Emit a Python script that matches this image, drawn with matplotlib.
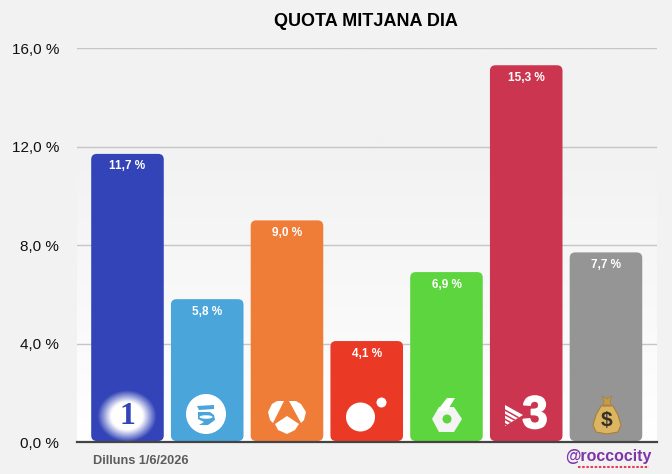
import numpy as np
import matplotlib
matplotlib.use('Agg')
import matplotlib.pyplot as plt
import matplotlib.patheffects as pe
from matplotlib.patches import FancyBboxPatch, Circle, Ellipse, Polygon

plt.rcParams['font.family'] = ['Liberation Sans', 'DejaVu Sans']

channels = ['La 1', 'Telecinco', 'Antena 3', 'Cuatro', 'La Sexta', '3/24', 'Altres']
shares = [11.7, 5.8, 9.0, 4.1, 6.9, 15.3, 7.7]
colors = ['#3344b8', '#49a5da', '#ef7d38', '#ea3a26', '#5dd53f', '#cc3550', '#959595']
yticks = [0, 4, 8, 12, 16]
ytickLabels = ['0,0 %', '4,0 %', '8,0 %', '12,0 %', '16,0 %']
title = 'QUOTA MITJANA DIA'
dateText = 'Dilluns 1/6/2026'
handle = '@roccocity'

W, H = 672, 474
BG = '#f2f2f2'
fig = plt.figure(figsize=(W / 100, H / 100), dpi=100, facecolor=BG)
ax = fig.add_axes([77 / W, 1 - 442 / H, 580 / W, 394 / H])

# background fade, white at the bottom
ramp = np.clip(np.linspace(0, 1.35, 256), 0, 1).reshape(-1, 1)
rgb = 1.0 - ramp * (1 - 0xf2 / 255)
ax.imshow(np.dstack([rgb, rgb, rgb]), extent=[-0.633, 6.64, 0, 16], origin='lower', aspect='auto', zorder=0)
ax.set_xlim(-0.633, 6.64)
ax.set_ylim(0, 16)

ax.yaxis.grid(True, color='#c6c6c6', linewidth=1.0, zorder=1)
ax.set_axisbelow(True)
for s in ['top', 'left', 'right']:
    ax.spines[s].set_visible(False)
ax.spines['bottom'].set_color('#444444')
ax.spines['bottom'].set_linewidth(1.6)
ax.spines['bottom'].set_zorder(5)
ax.set_xticks([])
ax.set_yticks(yticks)
ax.set_yticklabels(ytickLabels, fontsize=11, color='#111111')
ax.tick_params(axis='y', length=0, pad=13)

# rounded bars
barWidth = 0.91
pxPerX = 79.75
pxPerY = 394 / 16
for i, (v, c) in enumerate(zip(shares, colors)):
    box = FancyBboxPatch((i - barWidth / 2, 0.04), barWidth, v - 0.04,
                         boxstyle='round,pad=0,rounding_size=0.07',
                         mutation_aspect=pxPerX / pxPerY,
                         facecolor=c, edgecolor='none', zorder=3)
    ax.add_patch(box)
    label = ('%.1f' % v).replace('.', ',') + ' %'
    ax.annotate(label, (i, v), xytext=(0, -9), textcoords='offset points', ha='center', va='center',
                color='white', fontsize=8.5, fontweight='bold', zorder=4)

# overlay in pixel coordinates for the logos and captions
ov = fig.add_axes([0, 0, 1, 1], facecolor='none')
ov.axis('off')

ov.text(366, 21, title, ha='center', va='center', fontsize=13, fontweight='bold', color='black')
ov.text(93, 461, dateText, ha='left', va='center', fontsize=9.2, fontweight='bold', color='#5c5c5c')
ov.text(565, 457, handle, ha='left', va='center', fontsize=11.4, fontweight='bold', color='#7d35a8')
ov.plot([578, 649], [466.5, 466.5], color='#e0405a', linewidth=1.5, linestyle=(0, (1.2, 0.8)))

white = dict(facecolor='white', edgecolor='none')

# La 1: blurred white spot
yy, xx = np.mgrid[-1.4:1.4:120j, -1.4:1.4:120j]
dist = np.sqrt(xx ** 2 + yy ** 2)
spot = np.ones((120, 120, 4))
spot[..., 3] = np.clip((1.3 - dist) / 0.6, 0, 1)
ov.imshow(spot, extent=[127 - 32, 127 + 32, 416 + 28, 416 - 28], aspect='auto', zorder=2)
ov.text(127, 416, '1', ha='center', va='center', fontsize=23, fontweight='bold',
        family='Liberation Serif', color='#3344b8', zorder=3)

# Telecinco
blue = dict(facecolor='#49a5da', edgecolor='none')
ov.add_patch(Circle((206, 414), 20, zorder=2, **white))
ov.add_patch(Polygon([(197, 406), (214, 405), (214, 409), (199, 410)], zorder=3, **blue))
ov.add_patch(Polygon([(198, 412), (210, 412), (214, 415), (215, 420), (208, 425), (199, 425), (204, 422), (198, 419)],
                     zorder=3, **blue))
ov.add_patch(Ellipse((206, 417), 13, 3.5, zorder=4, **white))

# Antena 3
ov.add_patch(Polygon([(284, 401), (277, 401), (272, 404), (268, 412), (270, 420), (273, 423)], zorder=2, **white))
ov.add_patch(Polygon([(289, 401), (296, 401), (301, 404), (306, 412), (304, 420), (301, 423)], zorder=2, **white))
ov.add_patch(Polygon([(287, 416), (299, 424), (295, 430), (287, 434), (278, 430), (275, 424)], zorder=2, **white))

# Cuatro
ov.add_patch(Circle((360.5, 417), 14.5, zorder=2, **white))
ov.add_patch(Circle((381.5, 402.5), 5, zorder=2, **white))

# La Sexta
ov.add_patch(Polygon([(432, 419), (439, 407), (454, 407), (462, 419), (454, 432), (439, 432)],
                     facecolor='#f4f4f4', edgecolor='none', zorder=2))
ov.add_patch(Polygon([(437, 411), (447, 398), (455, 398), (447, 411)], zorder=2, **white))
ov.add_patch(Circle((447, 419), 4.5, facecolor='#5dd53f', edgecolor='none', zorder=3))

# 3/24
ov.text(535, 416, '3', ha='center', va='center', fontsize=33, fontweight='bold', color='white', zorder=2,
        path_effects=[pe.withStroke(linewidth=1.2, foreground='white')])
wedge = Polygon([(505, 405), (523, 415), (505, 426)], zorder=2, **white)
ov.add_patch(wedge)
for k in range(4):
    y0 = 409 + k * 4.6
    line, = ov.plot([503, 526], [y0, y0 + 12.8], color='#cc3550', linewidth=1.1, zorder=3)
    line.set_clip_path(wedge)

# money bag
ov.add_patch(Polygon([(601, 406), (613, 406), (618, 415), (621, 425), (618, 432), (607, 434), (596, 432), (593, 425),
                      (596, 415)], facecolor='#dcb562', edgecolor='#a87f35', linewidth=0.8, joinstyle='round', zorder=2))
ov.add_patch(Polygon([(603, 405), (604, 401), (602, 396), (607, 399), (612, 396), (610, 401), (611, 405)],
                     facecolor='#c79a48', edgecolor='#a87f35', linewidth=0.5, zorder=3))
ov.text(607, 421, '$', ha='center', va='center', fontsize=15, fontweight='bold', color='#333027', zorder=4)

ov.set_xlim(0, W)
ov.set_ylim(H, 0)

fig.savefig('out.png', dpi=100, facecolor=BG)
